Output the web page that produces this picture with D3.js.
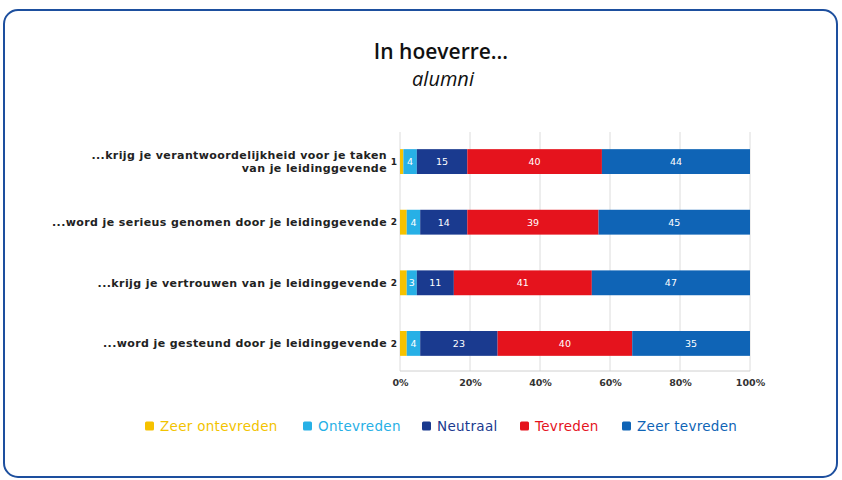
<!DOCTYPE html>
<html>
<head>
<meta charset="utf-8">
<script src="https://cdn.jsdelivr.net/npm/d3@7"></script>
<style>
  body { margin: 0; background: #fff; }
  text { font-family: "DejaVu Sans", sans-serif; }
</style>
</head>
<body>
<div id="d3-container"></div>
<script>
// data
const categories = [
  "...krijg je verantwoordelijkheid voor je taken|van je leidinggevende",
  "...word je serieus genomen door je leidinggevende",
  "...krijg je vertrouwen van je leidinggevende",
  "...word je gesteund door je leidinggevende"
];
const seriesNames = ["Zeer ontevreden", "Ontevreden", "Neutraal", "Tevreden", "Zeer tevreden"];
const zeerOntevreden = [1, 2, 2, 2];
const ontevreden = [4, 4, 3, 4];
const neutraal = [15, 14, 11, 23];
const tevreden = [40, 39, 41, 40];
const zeerTevreden = [44, 45, 47, 35];
const tickLabels = ["0%", "20%", "40%", "60%", "80%", "100%"];

const colors = ["#f6c200", "#27b0e6", "#1a3a8f", "#e5131d", "#0f64b6"];

const W = 842, H = 480;
const margin = { top: 134, left: 400, right: 92, bottom: 109 };
const width = W - margin.left - margin.right,
  height = H - margin.top - margin.bottom;

const svg = d3.select('#d3-container')
  .append('svg')
  .attr('width', W)
  .attr('height', H);

// frame
svg.append('rect')
  .attr('x', 4).attr('y', 10)
  .attr('width', 833).attr('height', 467)
  .attr('rx', 14)
  .attr('fill', 'white')
  .attr('stroke', '#1d4f9e')
  .attr('stroke-width', 2);

// title
svg.append('text')
  .attr('x', 441).attr('y', 59)
  .attr('text-anchor', 'middle')
  .style('font-family', '"Open Sans", sans-serif')
  .style('font-size', '21px')
  .style('font-weight', 600)
  .attr('fill', '#111')
  .text('In hoeverre...');
svg.append('text')
  .attr('x', 443).attr('y', 86)
  .attr('text-anchor', 'middle')
  .style('font-family', '"Open Sans", sans-serif')
  .style('font-size', '20px')
  .style('font-style', 'italic')
  .attr('fill', '#111')
  .text('alumni');

const table = categories.map((c, i) => ({
  cat: c,
  "Zeer ontevreden": zeerOntevreden[i],
  "Ontevreden": ontevreden[i],
  "Neutraal": neutraal[i],
  "Tevreden": tevreden[i],
  "Zeer tevreden": zeerTevreden[i]
}));

const stack = d3.stack().keys(seriesNames).offset(d3.stackOffsetExpand);
const series = stack(table);

const g = svg.append('g').attr('transform', `translate(${margin.left},${margin.top})`);

const x = d3.scaleLinear().domain([0, 1]).range([0, width]);
const y = d3.scaleBand().domain(categories).range([0, height]).paddingInner(0.59).paddingOuter(0.25);

// grid
g.append('g')
  .selectAll('line')
  .data(x.ticks(5))
  .join('line')
  .attr('x1', d => x(d)).attr('x2', d => x(d))
  .attr('y1', -2).attr('y2', height)
  .attr('stroke', '#dcdcdc')
  .attr('stroke-width', 1);

g.append('line')
  .attr('x1', 0).attr('x2', width)
  .attr('y1', height).attr('y2', height)
  .attr('stroke', '#d0d0d0');

// x axis
const xAxis = g.append('g')
  .attr('transform', `translate(0,${height})`)
  .call(d3.axisBottom(x).ticks(5).tickSize(0).tickPadding(8).tickFormat((d, i) => tickLabels[i]));
xAxis.select('.domain').remove();
xAxis.selectAll('text')
  .style('font-family', '"DejaVu Sans", sans-serif')
  .style('font-size', '9.5px')
  .style('font-weight', 700)
  .attr('fill', '#333');

// bars
const layer = g.append('g')
  .selectAll('g')
  .data(series)
  .join('g')
  .attr('fill', (d, i) => colors[i]);

layer.selectAll('rect')
  .data(d => d)
  .join('rect')
  .attr('x', d => x(d[0]))
  .attr('y', d => y(d.data.cat))
  .attr('width', d => x(d[1]) - x(d[0]))
  .attr('height', y.bandwidth());

// value labels
series.forEach((s, si) => {
  g.append('g')
    .selectAll('text')
    .data(s)
    .join('text')
    .attr('x', d => si === 0 ? -3 : (x(d[0]) + x(d[1])) / 2)
    .attr('y', d => y(d.data.cat) + y.bandwidth() / 2)
    .attr('dy', '0.35em')
    .attr('text-anchor', si === 0 ? 'end' : 'middle')
    .style('font-size', si === 0 ? '9px' : '9.5px')
    .style('font-weight', si === 0 ? 700 : 400)
    .attr('fill', si === 0 ? '#222' : 'white')
    .text(d => d.data[s.key]);
});

// category labels
const catLabels = g.append('g')
  .selectAll('text')
  .data(categories)
  .join('text')
  .attr('x', -13)
  .attr('y', d => y(d) + y.bandwidth() / 2)
  .attr('text-anchor', 'end')
  .style('font-size', '11px')
  .style('font-weight', 700)
  .style('letter-spacing', '0.4px')
  .attr('fill', '#222');

catLabels.each(function (d) {
  const lines = d.split('|');
  const t = d3.select(this);
  lines.forEach((l, i) => {
    t.append('tspan')
      .attr('x', -13)
      .attr('dy', i === 0 ? (0.35 - (lines.length - 1) * 0.6) + 'em' : '1.2em')
      .text(l);
  });
});

// legend
const legendX = [145, 303, 422, 520, 622];
const legend = svg.append('g')
  .selectAll('g')
  .data(seriesNames)
  .join('g')
  .attr('transform', (d, i) => `translate(${legendX[i]},426)`);
legend.append('rect')
  .attr('x', 0).attr('y', -4.5)
  .attr('width', 9).attr('height', 9)
  .attr('rx', 1.5)
  .attr('fill', (d, i) => colors[i]);
legend.append('text')
  .attr('x', 15).attr('y', 0)
  .attr('dy', '0.35em')
  .style('font-size', '13.5px')
  .style('letter-spacing', '0.3px')
  .attr('fill', (d, i) => i === 0 ? '#f2c300' : colors[i])
  .text(d => d);
</script>
</body>
</html>
